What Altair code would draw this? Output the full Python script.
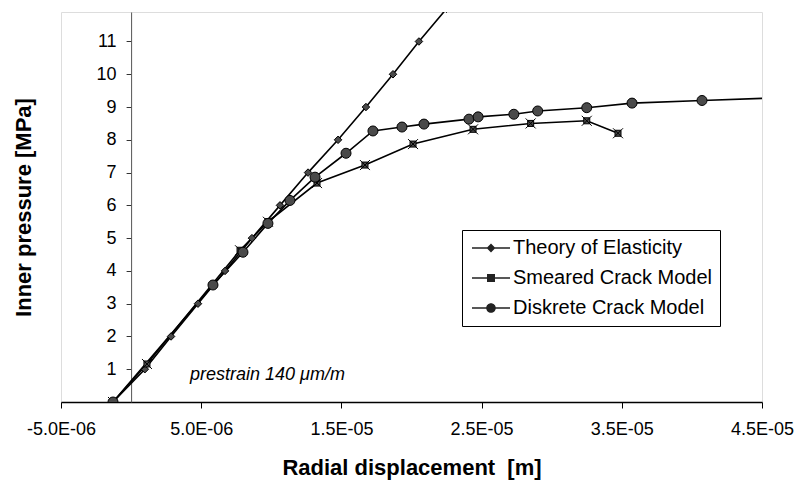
import altair as alt
import pandas as pd

series_names = ["Theory of Elasticity", "Smeared Crack Model", "Diskrete Crack Model"]

# radial displacement [m] and inner pressure [MPa]
theory_disp = [-1.29e-6, 0.98e-6, 2.85e-6, 4.77e-6, 6.70e-6, 8.62e-6, 10.62e-6,
               12.62e-6, 14.76e-6, 16.75e-6, 18.68e-6, 20.53e-6, 22.5e-6]
theory_pres = [0, 1, 2, 3, 4, 5, 6, 7, 8, 9, 10, 11, 12]

smeared_disp = [-1.29e-6, 1.13e-6, 7.77e-6, 9.76e-6, 13.26e-6, 16.68e-6, 20.11e-6,
                24.39e-6, 28.5e-6, 32.5e-6, 34.73e-6]
smeared_pres = [0, 1.16, 4.63, 5.5, 6.68, 7.23, 7.87, 8.32, 8.5, 8.58, 8.2]

diskrete_disp = [-1.29e-6, 5.84e-6, 7.98e-6, 9.76e-6, 11.33e-6, 13.12e-6, 15.33e-6,
                 17.25e-6, 19.32e-6, 20.89e-6, 24.10e-6, 24.75e-6, 27.3e-6, 29.0e-6,
                 32.5e-6, 35.73e-6, 40.72e-6, 46.0e-6]
diskrete_pres = [0, 3.57, 4.57, 5.45, 6.15, 6.86, 7.59, 8.27, 8.39, 8.48, 8.63, 8.70,
                 8.78, 8.88, 8.98, 9.12, 9.20, 9.28]

x_ticks = [-5e-6, 5e-6, 1.5e-5, 2.5e-5, 3.5e-5, 4.5e-5]
y_ticks = [1, 2, 3, 4, 5, 6, 7, 8, 9, 10, 11]
x_domain = [-5e-6, 4.5e-5]
y_domain = [0, 11.9]

note_disp = [4.2e-6]
note_pres = [0.82]
note_text = ["prestrain 140 \u03bcm/m"]

marker_paths = [
    "M0,-0.75L0.75,0L0,0.75L-0.75,0Z",
    "M-1,-1L1,1M-1,1L1,-1M-0.6,-0.6H0.6V0.6H-0.6Z",
    "circle",
]
# legend symbols: filled bar (the line) plus the marker
legend_paths = [
    "M-2,-0.2H7.5V0.2H-2ZM2.75,-1.1L3.85,0L2.75,1.1L1.65,0Z",
    "M-2,-0.2H7.5V0.2H-2ZM1.75,-1H3.75V1H1.75Z",
    "M-2,-0.2H7.5V0.2H-2ZM3.95,0A1.2,1.2,0,1,1,1.55,0A1.2,1.2,0,1,1,3.95,0Z",
]

rows = []
for name, xs, ps in zip(series_names,
                        [theory_disp, smeared_disp, diskrete_disp],
                        [theory_pres, smeared_pres, diskrete_pres]):
    for i, (xv, pv) in enumerate(zip(xs, ps)):
        rows.append({"series": name, "disp": xv, "pres": pv, "idx": i})
df = pd.DataFrame(rows)
note_df = pd.DataFrame({"disp": note_disp, "pres": note_pres, "label": note_text})

W, H = 701, 390
FONT = "Liberation Sans"

x_enc = alt.X(
    "disp:Q",
    scale=alt.Scale(domain=x_domain, nice=False, zero=False),
    axis=alt.Axis(
        values=x_ticks,
        labelExpr="replace(replace(format(datum.value, '.1e'), '\u2212', '-'), 'e-', 'E-0')",
        labelFlush=False, labelOverlap=False,
        tickSize=6, tickColor="black", domainColor="black", domainWidth=1.5,
        labelPadding=12, labelFontSize=18, labelColor="black", labelFont=FONT,
        grid=False, title="Radial displacement\u00a0 [m]", titleFontSize=22,
        titleFontWeight="bold", titleColor="black", titleFont=FONT,
        titleBaseline="alphabetic", titleX=W / 2, titleY=72,
    ),
)
y_enc = alt.Y(
    "pres:Q",
    scale=alt.Scale(domain=y_domain, nice=False, zero=True),
    axis=alt.Axis(
        values=y_ticks, offset=-0.1 * W, tickSize=5, tickColor="#333",
        domainColor="#555", domainWidth=1, labelPadding=10, labelFontSize=18,
        labelColor="black", labelFont=FONT, grid=False,
        title="Inner pressure [MPa]", titleFontSize=22, titleFontWeight="bold",
        titleColor="black", titleFont=FONT, titleAngle=270,
        titleBaseline="alphabetic", titleAlign="center",
        titleX=-101, titleY=H / 2,
    ),
)

lines = alt.Chart(df).mark_line(color="black", strokeWidth=1.6, clip=True).encode(
    x=x_enc, y=y_enc, detail="series:N", order="idx:Q"
)

point_layers = []
for name, path in zip(series_names, marker_paths):
    point_layers.append(
        alt.Chart(df).transform_filter(alt.datum.series == name).mark_point(
            shape=path, filled=True, fill="#4a4a4a", stroke="black",
            strokeWidth=1, opacity=1, size=100, clip=True
        ).encode(x=x_enc, y=y_enc)
    )

legend_layer = alt.Chart(df).transform_filter("false").mark_point(
    filled=True, fill="#222222", opacity=1, size=64
).encode(
    x=x_enc, y=y_enc,
    shape=alt.Shape(
        "series:N",
        scale=alt.Scale(domain=series_names, range=legend_paths),
        legend=alt.Legend(
            title=None, orient="none", legendX=401, legendY=218,
            strokeColor="black", fillColor="white", padding=8,
            labelFontSize=20, labelFont=FONT, labelColor="black", labelLimit=500,
            rowPadding=10, symbolSize=64, labelOffset=23,
            symbolFillColor="#222222", symbolOpacity=1,
            labelExpr="datum.label + '      '",
        ),
    ),
)

note = alt.Chart(note_df).mark_text(
    align="left", baseline="middle", fontStyle="italic", fontSize=18,
    font=FONT, color="black"
).encode(x=x_enc, y=y_enc, text="label:N")

chart = alt.layer(lines, *point_layers, legend_layer, note).properties(
    width=W, height=H,
    autosize=alt.AutoSizeParams(type="none"),
    padding={"left": 61, "top": 12, "right": 43, "bottom": 80},
    background="white",
).configure_view(stroke="black", strokeWidth=1.5).configure(font=FONT)

chart.save("out.html", embed_options={"renderer": "svg", "actions": False})
